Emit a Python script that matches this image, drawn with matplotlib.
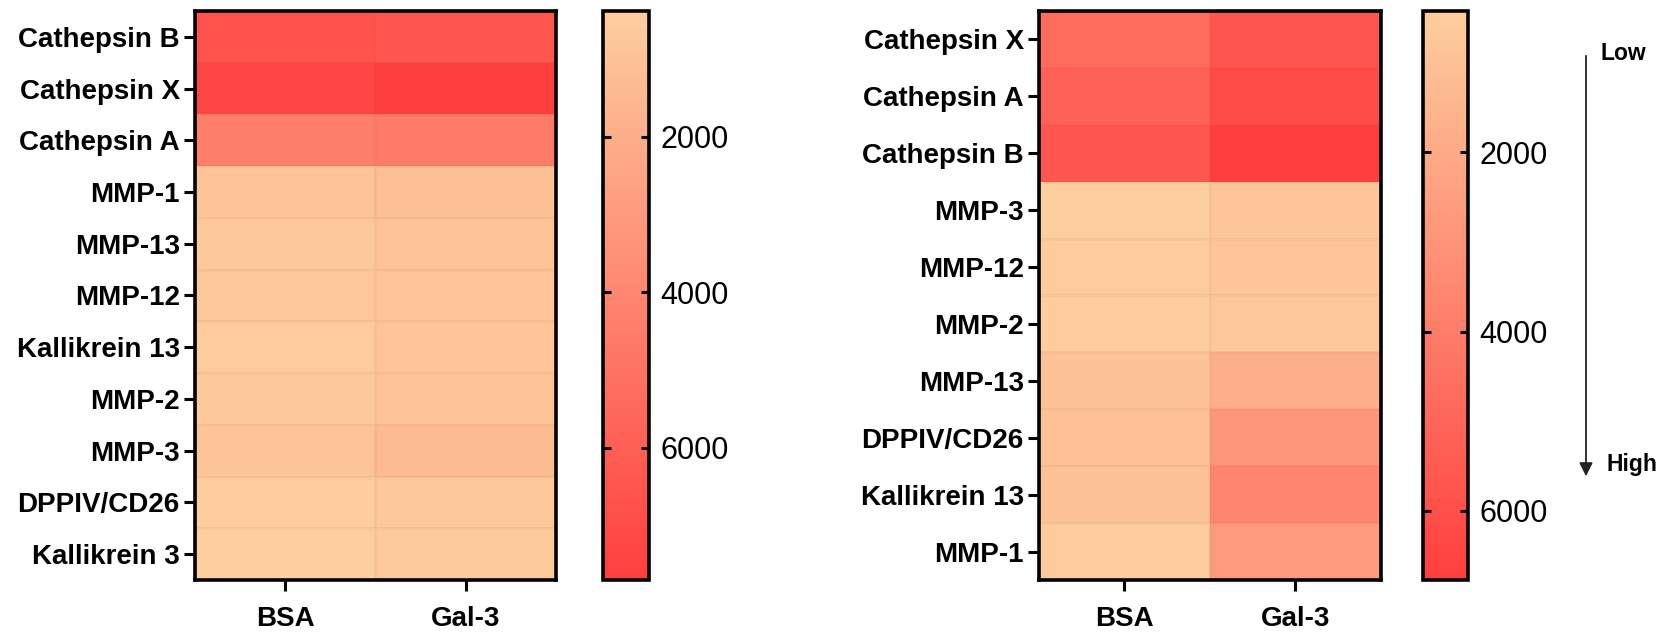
import numpy as np
import matplotlib
matplotlib.use("Agg")
import matplotlib.pyplot as plt
from matplotlib.colors import LinearSegmentedColormap

# left panel
rows_left = ["Cathepsin B", "Cathepsin X", "Cathepsin A", "MMP-1", "MMP-13", "MMP-12",
             "Kallikrein 13", "MMP-2", "MMP-3", "DPPIV/CD26", "Kallikrein 3"]
bsa_left = [6600, 7250, 4400, 900, 700, 750, 550, 650, 900, 450, 380]
gal3_left = [6400, 7700, 4550, 1150, 900, 850, 850, 900, 1350, 700, 600]

# right panel
rows_right = ["Cathepsin X", "Cathepsin A", "Cathepsin B", "MMP-3", "MMP-12", "MMP-2",
              "MMP-13", "DPPIV/CD26", "Kallikrein 13", "MMP-1"]
bsa_right = [4740, 5180, 5630, 425, 550, 480, 900, 1000, 900, 550]
gal3_right = [5630, 6140, 6770, 800, 800, 750, 1800, 2900, 3600, 2700]

columns = ["BSA", "Gal-3"]
cbar_ticks = [2000, 4000, 6000]

cmap = LinearSegmentedColormap.from_list("peach_red", ["#FDCE9E", "#FF3E3E"])

plt.rcParams['font.family'] = ['Liberation Sans', 'DejaVu Sans']

fig = plt.figure(figsize=(16.68, 6.32), dpi=100)


def draw_panel(ax_rect, cax_rect, rows, bsa, gal3):
    data = np.column_stack([bsa, gal3])
    ax = fig.add_axes(ax_rect)
    mesh = ax.pcolormesh(data, cmap=cmap, vmin=data.min(), vmax=data.max(),
                         edgecolors=(0.6, 0.2, 0.1, 0.04), linewidth=0.8)
    ax.set_ylim(len(rows), 0)
    ax.set_xlim(0, 2)
    ax.set_yticks(np.arange(len(rows)) + 0.5)
    ax.set_yticklabels(rows, fontsize=20, fontweight="bold")
    ax.set_xticks([0.5, 1.5])
    ax.set_xticklabels(columns, fontsize=20, fontweight="bold")
    ax.tick_params(axis="both", length=8, width=2.2, pad=3)
    ax.tick_params(axis="x", pad=11)
    for s in ax.spines.values():
        s.set_linewidth(2.6)

    cax = fig.add_axes(cax_rect)
    cb = fig.colorbar(mesh, cax=cax, ticks=cbar_ticks)
    cb.outline.set_linewidth(2.6)
    cax.invert_yaxis()
    cax.tick_params(axis="y", which="both", left=True, right=True, direction="in",
                    length=6, width=2.2, labelsize=22, pad=8)
    cb.set_ticklabels([str(t) for t in cbar_ticks])
    return ax, cax


draw_panel([0.1169, 0.0823, 0.2164, 0.9003], [0.3615, 0.0823, 0.0276, 0.9003],
           rows_left, bsa_left, gal3_left)
draw_panel([0.6229, 0.0823, 0.2050, 0.9003], [0.8531, 0.0823, 0.0270, 0.9003],
           rows_right, bsa_right, gal3_right)

# Low -> High arrow
fig.patches.append(matplotlib.patches.FancyArrowPatch(
    (1586 / 1668, 1 - 53 / 632), (1586 / 1668, 1 - 479 / 632),
    transform=fig.transFigure, arrowstyle="-|>", mutation_scale=20,
    linewidth=1.3, color="#222222"))
fig.text(1600 / 1668, 1 - 53 / 632, "Low", fontsize=16.5, fontweight="bold", va="center")
fig.text(1606 / 1668, 1 - 465 / 632, "High", fontsize=16.5, fontweight="bold", va="center")

fig.savefig("out.png", dpi=100)
